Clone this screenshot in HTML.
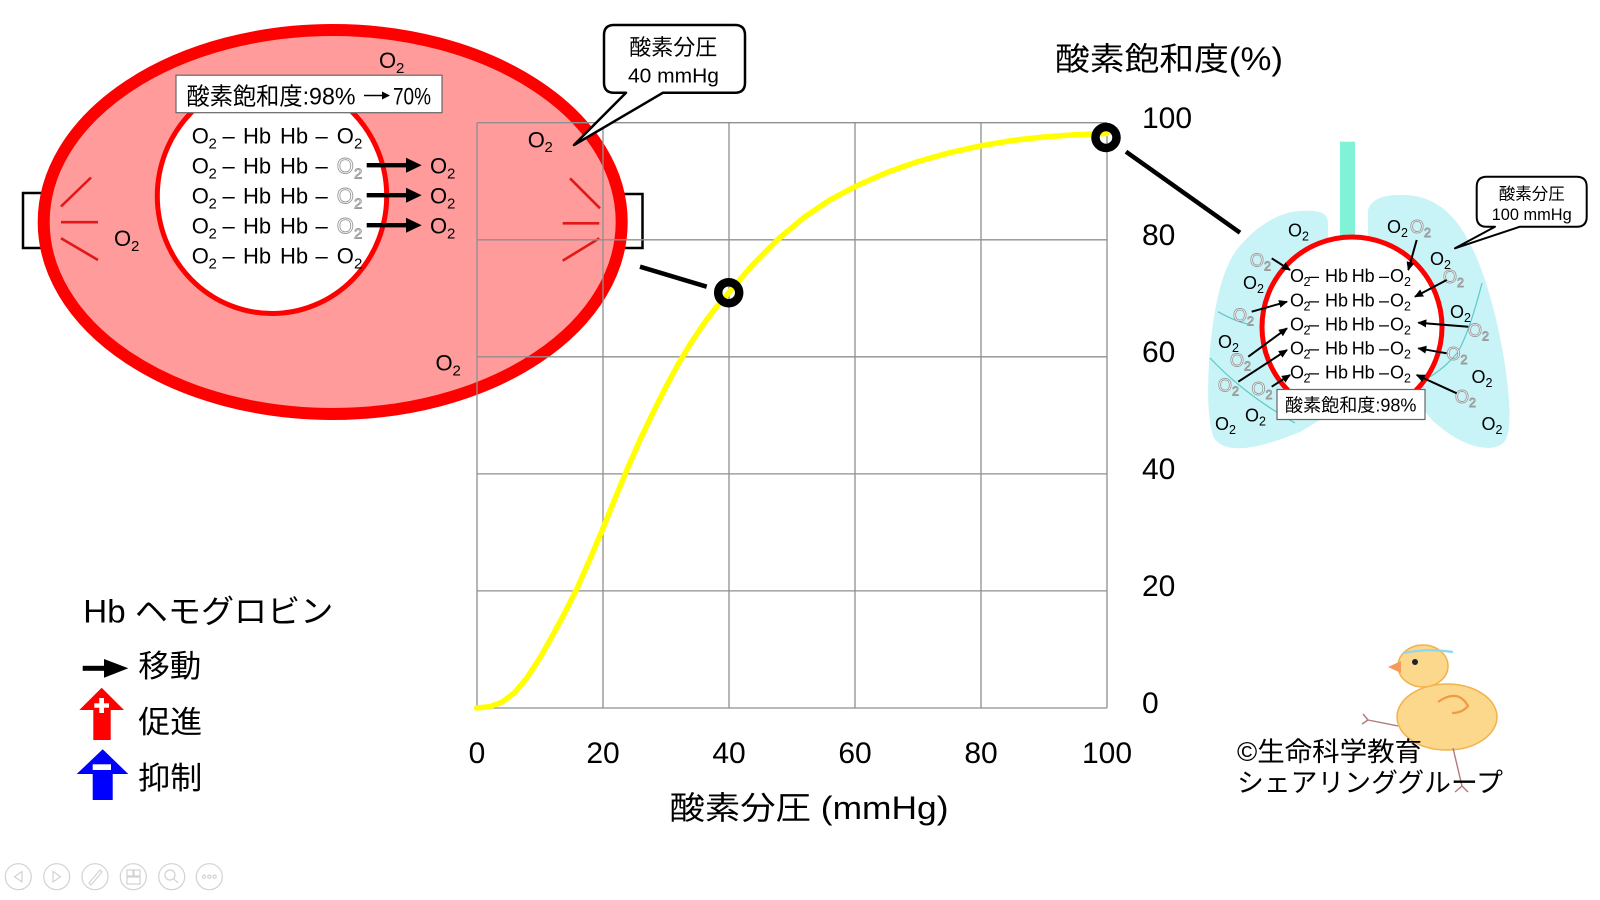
<!DOCTYPE html>
<html><head><meta charset="utf-8"><style>
html,body{margin:0;padding:0;background:#fff;}
svg{display:block;}
text{font-family:"Liberation Sans","Noto Sans CJK JP",sans-serif;fill:#000;}
.h{fill:#fff;stroke:#9a9a9a;stroke-width:0.9;}
</style></head><body>
<svg width="1600" height="900" viewBox="0 0 1600 900" xmlns="http://www.w3.org/2000/svg">
<defs>
<marker id="ah" markerWidth="9" markerHeight="8" refX="8" refY="4" orient="auto" markerUnits="userSpaceOnUse"><path d="M0,0 L9,4 L0,8 z" fill="#000"/></marker>
</defs>
<rect width="1600" height="900" fill="#fff"/>

<!-- brackets behind cell -->
<rect x="23" y="193" width="70" height="55" fill="#fff" stroke="#000" stroke-width="2.5"/>
<rect x="570" y="194" width="72.5" height="54" fill="#fff" stroke="#000" stroke-width="2.5"/>

<!-- red blood cell -->
<ellipse cx="332.7" cy="222" rx="289" ry="192" fill="#ff9b9b" stroke="#ff0000" stroke-width="12"/>
<ellipse cx="272" cy="196" rx="114.7" ry="117.5" fill="#fff" stroke="#ff0000" stroke-width="5"/>
<g stroke="#e01818" stroke-width="2.6">
<line x1="61" y1="206.5" x2="91" y2="177.5"/><line x1="61" y1="222.2" x2="98" y2="222.2"/><line x1="61" y1="238.3" x2="98" y2="260"/>
<line x1="570" y1="178.3" x2="600" y2="208.3"/><line x1="562.7" y1="223.3" x2="599.3" y2="223.3"/><line x1="562.7" y1="260.7" x2="599.3" y2="238.3"/>
</g>

<!-- saturation label box -->
<rect x="176" y="75.2" width="266" height="37.5" fill="#fff" stroke="#666" stroke-width="1.2"/>
<text x="186.5" y="104.5" font-size="24" textLength="169" lengthAdjust="spacingAndGlyphs">酸素飽和度:98%</text>
<line x1="364" y1="95.5" x2="386" y2="95.5" stroke="#000" stroke-width="1.6"/>
<polygon points="382,91.5 390,95.5 382,99.5" fill="#000"/>
<text x="393" y="104.5" font-size="24" textLength="38" lengthAdjust="spacingAndGlyphs">70%</text>

<!-- rows inside cell -->
<g font-size="22">
<text y="143.5"><tspan x="191.7">O</tspan><tspan x="208.5" y="148.5" font-size="15">2</tspan><tspan x="222.5" y="143.5">–</tspan><tspan x="243">Hb</tspan><tspan x="280">Hb</tspan><tspan x="315.5">–</tspan><tspan x="336.7">O</tspan><tspan x="354" y="148.5" font-size="15">2</tspan></text>
<text y="173.5"><tspan x="191.7">O</tspan><tspan x="208.5" y="178.5" font-size="15">2</tspan><tspan x="222.5" y="173.5">–</tspan><tspan x="243">Hb</tspan><tspan x="280">Hb</tspan><tspan x="315.5">–</tspan></text>
<text y="203.5"><tspan x="191.7">O</tspan><tspan x="208.5" y="208.5" font-size="15">2</tspan><tspan x="222.5" y="203.5">–</tspan><tspan x="243">Hb</tspan><tspan x="280">Hb</tspan><tspan x="315.5">–</tspan></text>
<text y="233.5"><tspan x="191.7">O</tspan><tspan x="208.5" y="238.5" font-size="15">2</tspan><tspan x="222.5" y="233.5">–</tspan><tspan x="243">Hb</tspan><tspan x="280">Hb</tspan><tspan x="315.5">–</tspan></text>
<text y="263.5"><tspan x="191.7">O</tspan><tspan x="208.5" y="268.5" font-size="15">2</tspan><tspan x="222.5" y="263.5">–</tspan><tspan x="243">Hb</tspan><tspan x="280">Hb</tspan><tspan x="315.5">–</tspan><tspan x="336.7">O</tspan><tspan x="354" y="268.5" font-size="15">2</tspan></text>
<!-- hollow O2 -->
<text class="h" y="173.5"><tspan x="336.7">O</tspan><tspan x="354" y="178.5" font-size="15">2</tspan></text>
<text class="h" y="203.5"><tspan x="336.7">O</tspan><tspan x="354" y="208.5" font-size="15">2</tspan></text>
<text class="h" y="233.5"><tspan x="336.7">O</tspan><tspan x="354" y="238.5" font-size="15">2</tspan></text>
<!-- released O2 -->
<text y="173.5"><tspan x="430">O</tspan><tspan x="447" y="178.5" font-size="15">2</tspan></text>
<text y="203.5"><tspan x="430">O</tspan><tspan x="447" y="208.5" font-size="15">2</tspan></text>
<text y="233.5"><tspan x="430">O</tspan><tspan x="447" y="238.5" font-size="15">2</tspan></text>
<!-- free O2 in cell -->
<text y="68"><tspan x="379">O</tspan><tspan x="396" y="73" font-size="15">2</tspan></text>
<text y="246"><tspan x="114">O</tspan><tspan x="131" y="251" font-size="15">2</tspan></text>
<text y="370.5"><tspan x="435.5">O</tspan><tspan x="452.5" y="375.5" font-size="15">2</tspan></text>
<text y="147.5"><tspan x="527.7">O</tspan><tspan x="544.5" y="152" font-size="15">2</tspan></text>
</g>
<!-- cell arrows -->
<g fill="#000" stroke="none">
<rect x="366.7" y="163" width="41" height="4.4"/><polygon points="406,157.7 421.7,165.2 406,172.7"/>
<rect x="366.7" y="193" width="41" height="4.4"/><polygon points="406,187.7 421.7,195.2 406,202.7"/>
<rect x="366.7" y="223" width="41" height="4.4"/><polygon points="406,217.7 421.7,225.2 406,232.7"/>
</g>

<!-- grid -->
<g stroke="#8f8f8f" stroke-width="1.3" fill="none">
<line x1="477" y1="122.7" x2="477" y2="708"/>
<line x1="603" y1="122.7" x2="603" y2="708"/>
<line x1="729" y1="122.7" x2="729" y2="708"/>
<line x1="855" y1="122.7" x2="855" y2="708"/>
<line x1="981" y1="122.7" x2="981" y2="708"/>
<line x1="1107" y1="122.7" x2="1107" y2="708"/>
<line x1="477" y1="122.7" x2="1107" y2="122.7"/>
<line x1="477" y1="239.8" x2="1107" y2="239.8"/>
<line x1="477" y1="356.8" x2="1107" y2="356.8"/>
<line x1="477" y1="473.9" x2="1107" y2="473.9"/>
<line x1="477" y1="590.9" x2="1107" y2="590.9"/>
<line x1="477" y1="708" x2="1107" y2="708"/>
</g>

<!-- callout 40 mmHg -->
<path d="M614,25 H735 Q745,25 745,35 V82.7 Q745,92.7 735,92.7 H663 L574,145 L626,92.7 H614 Q604,92.7 604,82.7 V35 Q604,25 614,25 Z" fill="#fff" stroke="#000" stroke-width="2.5" stroke-linejoin="round"/>
<text x="673.3" y="55" font-size="22" text-anchor="middle">酸素分圧</text>
<text x="628" y="82.7" font-size="20" textLength="91" lengthAdjust="spacingAndGlyphs">40 mmHg</text>

<!-- curve -->
<polyline fill="none" stroke="#ffff00" stroke-width="5.5" stroke-linejoin="round" stroke-linecap="round" points="476.7,708 489.3,706.8 501.9,702.2 514.5,692.8 527.1,677.6 539.7,658.3 552.3,636 564.9,612.6 577.5,587.5 590.1,558.8 602.7,529 615.3,498 627.9,467.6 640.5,438.9 653.1,412.6 665.7,387.4 678.3,364 690.9,343 703.5,324.2 716.1,307.3 728.7,292.7 753.9,263.4 779.1,238.2 804.3,217.2 829.5,200.2 854.7,186.8 886.2,172.7 917.7,161.6 949.2,152.8 980.7,145.8 1012.2,140.5 1043.7,137 1075.2,134.7 1106.7,133.5"/>
<line x1="640" y1="266.7" x2="706.7" y2="286.7" stroke="#000" stroke-width="4.5"/>
<line x1="1126" y1="151.7" x2="1240" y2="232.7" stroke="#000" stroke-width="4.5"/>
<circle cx="728.7" cy="292.7" r="10.5" fill="none" stroke="#000" stroke-width="8.5"/>
<circle cx="1106" cy="137.5" r="10.5" fill="none" stroke="#000" stroke-width="8.5"/>

<!-- axis labels -->
<g font-size="30">
<text x="477" y="763" text-anchor="middle">0</text>
<text x="603" y="763" text-anchor="middle">20</text>
<text x="729" y="763" text-anchor="middle">40</text>
<text x="855" y="763" text-anchor="middle">60</text>
<text x="981" y="763" text-anchor="middle">80</text>
<text x="1107" y="763" text-anchor="middle">100</text>
<text x="1142" y="128">100</text>
<text x="1142" y="245">80</text>
<text x="1142" y="362">60</text>
<text x="1142" y="479">40</text>
<text x="1142" y="596">20</text>
<text x="1142" y="713">0</text>
</g>
<text x="669.5" y="819" font-size="32" textLength="279" lengthAdjust="spacingAndGlyphs">酸素分圧 (mmHg)</text>
<text x="1055" y="70" font-size="32" textLength="228" lengthAdjust="spacingAndGlyphs">酸素飽和度(%)</text>

<!-- lungs -->
<path d="M1328,240 L1328,222 C1327,212 1318,210 1300,211 C1275,212 1250,232 1235,252 C1222,272 1214,305 1210,350 C1207,385 1207,420 1214,438 C1220,447 1232,449 1245,448 C1262,446 1280,440 1300,432 L1320,420 L1320,300 Z" fill="#c8f3f7"/>
<path d="M1368,240 L1368,210 C1372,198 1385,195 1400,195 C1425,194 1450,205 1468,240 C1485,270 1498,320 1505,365 C1510,400 1512,430 1505,441 C1498,449 1488,449 1475,446 C1460,442 1445,432 1432,420 L1400,380 Z" fill="#c8f3f7"/>
<g fill="none" stroke="#5ccac4" stroke-width="1.2">
<path d="M1218,311.7 Q1236,322 1252,325"/>
<path d="M1210,358 Q1245,395 1295,423"/>
<path d="M1482,283 Q1470,330 1458,352 Q1445,368 1428,378"/>
</g>
<rect x="1340" y="141.7" width="15" height="100" fill="#80f2d6"/>

<!-- lung O2 labels -->
<g font-size="18">
<text y="236.5"><tspan x="1288">O</tspan><tspan x="1302" y="240.5" font-size="12.5">2</tspan></text>
<text y="289"><tspan x="1243">O</tspan><tspan x="1257" y="293" font-size="12.5">2</tspan></text>
<text y="348"><tspan x="1218">O</tspan><tspan x="1232" y="352" font-size="12.5">2</tspan></text>
<text y="430"><tspan x="1215">O</tspan><tspan x="1229" y="434" font-size="12.5">2</tspan></text>
<text y="421.5"><tspan x="1245">O</tspan><tspan x="1259" y="425.5" font-size="12.5">2</tspan></text>
<text y="233"><tspan x="1387">O</tspan><tspan x="1401" y="237" font-size="12.5">2</tspan></text>
<text y="265"><tspan x="1430">O</tspan><tspan x="1444" y="269" font-size="12.5">2</tspan></text>
<text y="318"><tspan x="1450">O</tspan><tspan x="1464" y="322" font-size="12.5">2</tspan></text>
<text y="383"><tspan x="1471.5">O</tspan><tspan x="1485.5" y="387" font-size="12.5">2</tspan></text>
<text y="430"><tspan x="1481.5">O</tspan><tspan x="1495.5" y="434" font-size="12.5">2</tspan></text>
</g>
<g font-size="18" class="h">
<text class="h" y="266.5"><tspan x="1250">O</tspan><tspan x="1264" y="270.5" font-size="12.5">2</tspan></text>
<text class="h" y="321.5"><tspan x="1233">O</tspan><tspan x="1247" y="325.5" font-size="12.5">2</tspan></text>
<text class="h" y="366.5"><tspan x="1230">O</tspan><tspan x="1244" y="370.5" font-size="12.5">2</tspan></text>
<text class="h" y="391.5"><tspan x="1218">O</tspan><tspan x="1232" y="395.5" font-size="12.5">2</tspan></text>
<text class="h" y="395"><tspan x="1251.5">O</tspan><tspan x="1265.5" y="399" font-size="12.5">2</tspan></text>
<text class="h" y="233"><tspan x="1410">O</tspan><tspan x="1424" y="237" font-size="12.5">2</tspan></text>
<text class="h" y="283"><tspan x="1443">O</tspan><tspan x="1457" y="287" font-size="12.5">2</tspan></text>
<text class="h" y="336.5"><tspan x="1468">O</tspan><tspan x="1482" y="340.5" font-size="12.5">2</tspan></text>
<text class="h" y="360"><tspan x="1446.5">O</tspan><tspan x="1460.5" y="364" font-size="12.5">2</tspan></text>
<text class="h" y="403"><tspan x="1455">O</tspan><tspan x="1469" y="407" font-size="12.5">2</tspan></text>
</g>

<!-- lung red circle -->
<circle cx="1352" cy="327" r="90" fill="#fff" stroke="#ff0000" stroke-width="5"/>
<g font-size="18">
<text y="282.2"><tspan x="1290">O</tspan><tspan x="1303.5" y="286.2" font-size="12.5">2</tspan><tspan x="1309" y="282.2">–</tspan><tspan x="1325">Hb</tspan><tspan x="1351.7">Hb</tspan><tspan x="1379">–</tspan><tspan x="1390">O</tspan><tspan x="1404" y="286.2" font-size="12.5">2</tspan></text>
<text y="306.5"><tspan x="1290">O</tspan><tspan x="1303.5" y="310.5" font-size="12.5">2</tspan><tspan x="1309" y="306.5">–</tspan><tspan x="1325">Hb</tspan><tspan x="1351.7">Hb</tspan><tspan x="1379">–</tspan><tspan x="1390">O</tspan><tspan x="1404" y="310.5" font-size="12.5">2</tspan></text>
<text y="330.5"><tspan x="1290">O</tspan><tspan x="1303.5" y="334.5" font-size="12.5">2</tspan><tspan x="1309" y="330.5">–</tspan><tspan x="1325">Hb</tspan><tspan x="1351.7">Hb</tspan><tspan x="1379">–</tspan><tspan x="1390">O</tspan><tspan x="1404" y="334.5" font-size="12.5">2</tspan></text>
<text y="354.5"><tspan x="1290">O</tspan><tspan x="1303.5" y="358.5" font-size="12.5">2</tspan><tspan x="1309" y="354.5">–</tspan><tspan x="1325">Hb</tspan><tspan x="1351.7">Hb</tspan><tspan x="1379">–</tspan><tspan x="1390">O</tspan><tspan x="1404" y="358.5" font-size="12.5">2</tspan></text>
<text y="378.5"><tspan x="1290">O</tspan><tspan x="1303.5" y="382.5" font-size="12.5">2</tspan><tspan x="1309" y="378.5">–</tspan><tspan x="1325">Hb</tspan><tspan x="1351.7">Hb</tspan><tspan x="1379">–</tspan><tspan x="1390">O</tspan><tspan x="1404" y="382.5" font-size="12.5">2</tspan></text>
</g>
<g stroke="#000" stroke-width="2" marker-end="url(#ah)">
<line x1="1271.7" y1="258.3" x2="1290" y2="270"/>
<line x1="1251.7" y1="311.7" x2="1287" y2="301.7"/>
<line x1="1248.3" y1="356.7" x2="1287" y2="328.3"/>
<line x1="1238.3" y1="381.7" x2="1287" y2="350"/>
<line x1="1271.7" y1="386.7" x2="1290" y2="375"/>
<line x1="1416.7" y1="240" x2="1408.3" y2="270"/>
<line x1="1446.7" y1="280" x2="1415" y2="296.7"/>
<line x1="1468.3" y1="326.7" x2="1418.3" y2="322.7"/>
<line x1="1446.7" y1="353.3" x2="1418.3" y2="348.3"/>
<line x1="1456.7" y1="393.3" x2="1416.7" y2="375"/>
</g>
<rect x="1277" y="389.5" width="148" height="30" fill="#fff" stroke="#666" stroke-width="1.2"/>
<text x="1285" y="411.5" font-size="18" textLength="131.5" lengthAdjust="spacingAndGlyphs">酸素飽和度:98%</text>

<!-- callout 100 mmHg -->
<path d="M1486.7,176.7 H1576.7 Q1586.7,176.7 1586.7,186.7 V216.7 Q1586.7,226.7 1576.7,226.7 H1520 L1455,248.3 L1495,226.7 H1486.7 Q1476.7,226.7 1476.7,216.7 V186.7 Q1476.7,176.7 1486.7,176.7 Z" fill="#fff" stroke="#000" stroke-width="2" stroke-linejoin="round"/>
<text x="1531.7" y="199.5" font-size="16.5" text-anchor="middle">酸素分圧</text>
<text x="1491.7" y="220" font-size="17" textLength="80" lengthAdjust="spacingAndGlyphs">100 mmHg</text>

<!-- chick -->
<g>
<ellipse cx="1447" cy="717" rx="50" ry="33" fill="#fbd88c" stroke="#f2b24c" stroke-width="1.5"/>
<ellipse cx="1423" cy="666" rx="25" ry="21" fill="#fbd88c" stroke="#f2b24c" stroke-width="1.5"/>
<polygon points="1401,661 1388,667 1401,673" fill="#f59a5a"/>
<circle cx="1415" cy="662" r="3" fill="#222"/>
<path d="M1404,653 Q1428,648 1453,652" fill="none" stroke="#8fd6f0" stroke-width="2.2"/>
<path d="M1438,702 Q1458,688 1468,706 Q1462,713 1452,713" fill="none" stroke="#f09a48" stroke-width="2.2"/>
<g stroke="#b07a7a" stroke-width="1.4" fill="none">
<path d="M1398,726 L1368,720 M1368,720 L1363,714 M1368,720 L1362,724"/>
<path d="M1453,748 L1462,786 M1462,786 L1455,792 M1462,786 L1468,792"/>
</g>
</g>
<text x="1237" y="761" font-size="26.5" textLength="185" lengthAdjust="spacingAndGlyphs">©生命科学教育</text>
<text x="1237" y="792" font-size="26.5" textLength="266" lengthAdjust="spacingAndGlyphs">シェアリンググループ</text>

<!-- legend -->
<text x="83.3" y="622.7" font-size="32" textLength="250" lengthAdjust="spacingAndGlyphs">Hb ヘモグロビン</text>
<rect x="82.7" y="665.8" width="24" height="5" fill="#000"/>
<polygon points="104,659 128.3,668.3 104,677.7" fill="#000"/>
<text x="138.3" y="677" font-size="31" textLength="63" lengthAdjust="spacingAndGlyphs">移動</text>
<polygon points="101.7,687.7 124,710 110.7,710 110.7,740 93.3,740 93.3,710 79.3,710" fill="#ff0000"/>
<rect x="99.3" y="698" width="4.7" height="15" fill="#fff"/>
<rect x="94.3" y="703.3" width="14.7" height="4.4" fill="#fff"/>
<text x="138.3" y="733" font-size="31" textLength="64" lengthAdjust="spacingAndGlyphs">促進</text>
<polygon points="102.7,749.3 128.3,774 112.7,774 112.7,800 92.7,800 92.7,774 76.7,774" fill="#0000ff"/>
<rect x="92.7" y="764.3" width="18.3" height="5.7" fill="#fff"/>
<text x="138.3" y="789" font-size="31" textLength="64" lengthAdjust="spacingAndGlyphs">抑制</text>

<!-- toolbar -->
<g fill="none" stroke="#d2d2d2" stroke-width="1.2">
<circle cx="18.3" cy="876.7" r="13"/><polygon points="22,871.5 14.5,876.7 22,882"/>
<circle cx="56.7" cy="876.7" r="13"/><polygon points="53,871.5 60.5,876.7 53,882"/>
<circle cx="95" cy="876.7" r="13"/><path d="M89,883 L100,870 L102,872 L91,885 Z"/>
<circle cx="133.3" cy="876.7" r="13"/><rect x="127" y="870" width="6" height="6"/><rect x="134" y="870" width="6" height="6"/><rect x="127" y="877" width="13" height="7"/>
<circle cx="171.7" cy="876.7" r="13"/><circle cx="170" cy="875" r="5"/><line x1="173.5" y1="878.5" x2="178" y2="883"/>
<circle cx="209.3" cy="876.7" r="13"/><circle cx="204" cy="876.7" r="1.6"/><circle cx="209.3" cy="876.7" r="1.6"/><circle cx="214.6" cy="876.7" r="1.6"/>
</g>
</svg>
</body></html>
